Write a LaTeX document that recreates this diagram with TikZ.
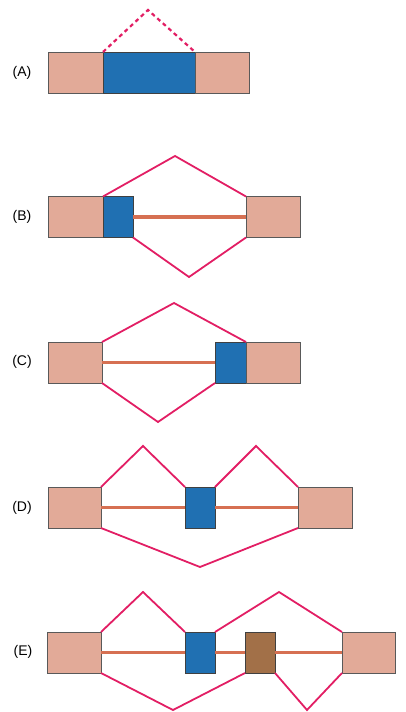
\documentclass[tikz,border=0pt]{standalone}
\usepackage{fontspec}
\setmainfont{Liberation Sans}
\definecolor{salmon}{RGB}{226,170,152}
\definecolor{exblue}{RGB}{32,112,178}
\definecolor{exbrown}{RGB}{162,112,72}
\definecolor{splicec}{RGB}{226,30,100}
\definecolor{intronc}{RGB}{214,112,82}
\tikzset{
  exon/.style={draw=black!65, line width=0.6pt, fill=salmon, inner sep=0pt, outer sep=0pt, minimum height=41pt},
  blueex/.style={exon, fill=exblue, draw=black!75},
  brownex/.style={exon, fill=exbrown, draw=black!75},
  splice/.style={draw=splicec, line width=1.8pt, line join=miter},
  intron/.style={draw=intronc, line width=3.4pt},
  lbl/.style={font=\fontsize{14}{16}\selectfont, inner sep=0pt}
}
\begin{document}
\begin{tikzpicture}[x=1pt,y=-1pt]
\useasboundingbox (0,0) rectangle (405,712);
% (A)
\node[lbl] (la) at (22,73) {(A)};
\node[exon, minimum width=55pt] (a1) at (75.5,72.5) {};
\node[blueex, minimum width=92pt] (a2) at (149,72.5) {};
\node[exon, minimum width=54pt] (a3) at (222,72.5) {};
\coordinate (ap) at (148,10);
\draw[splice, line width=2.2pt, dash pattern=on 4pt off 3.4pt] (a2.north west) -- (ap) -- (a2.north east);
% (B)
\node[lbl] (lb) at (22,217) {(B)};
\node[exon, minimum width=55pt] (b1) at (75.5,217) {};
\node[blueex, minimum width=30pt] (b2) at (118,217) {};
\node[exon, minimum width=54pt] (b3) at (273,217) {};
\draw[intron] (b2.east) -- (b3.west);
\coordinate (bp) at (175,156);
\coordinate (bq) at (189,277);
\draw[splice] (b1.north east) -- (bp) -- (b3.north west);
\draw[splice] (b2.south east) -- (bq) -- (b3.south west);
% (C)
\node[lbl] (lc) at (22,362) {(C)};
\node[exon, minimum width=54pt] (c1) at (75,362.5) {};
\node[blueex, minimum width=31pt] (c2) at (230.5,362.5) {};
\node[exon, minimum width=54pt] (c3) at (273,362.5) {};
\draw[intron] (c1.east) -- (c2.west);
\coordinate (cp) at (174,303);
\coordinate (cq) at (158,422);
\draw[splice] (c1.north east) -- (cp) -- (c3.north west);
\draw[splice] (c1.south east) -- (cq) -- (c2.south west);
% (D)
\node[lbl] (ld) at (22,508) {(D)};
\node[exon, minimum width=53pt] (d1) at (74.5,507.5) {};
\node[blueex, minimum width=30pt] (d2) at (200,507.5) {};
\node[exon, minimum width=54pt] (d3) at (325,507.5) {};
\draw[intron] (d1.east) -- (d2.west);
\draw[intron] (d2.east) -- (d3.west);
\coordinate (dp1) at (143,446);
\coordinate (dp2) at (256,446);
\coordinate (dq) at (200,567);
\draw[splice] (d1.north east) -- (dp1) -- (d2.north west);
\draw[splice] (d2.north east) -- (dp2) -- (d3.north west);
\draw[splice] (d1.south east) -- (dq) -- (d3.south west);
% (E)
\node[lbl] (le) at (23,652) {(E)};
\node[exon, minimum width=54pt] (e1) at (74,652.5) {};
\node[blueex, minimum width=30pt] (e2) at (200,652.5) {};
\node[brownex, minimum width=30pt] (e3) at (260,652.5) {};
\node[exon, minimum width=53pt] (e4) at (368.5,652.5) {};
\draw[intron] (e1.east) -- (e2.west);
\draw[intron] (e2.east) -- (e3.west);
\draw[intron] (e3.east) -- (e4.west);
\coordinate (ep1) at (143,592);
\coordinate (ep2) at (279,592);
\coordinate (eq1) at (173,710);
\coordinate (eq2) at (307,710);
\draw[splice] (e1.north east) -- (ep1) -- (e2.north west);
\draw[splice] (e2.north east) -- (ep2) -- (e4.north west);
\draw[splice] (e1.south east) -- (eq1) -- (e3.south west);
\draw[splice] (e3.south east) -- (eq2) -- (e4.south west);
\end{tikzpicture}
\end{document}
